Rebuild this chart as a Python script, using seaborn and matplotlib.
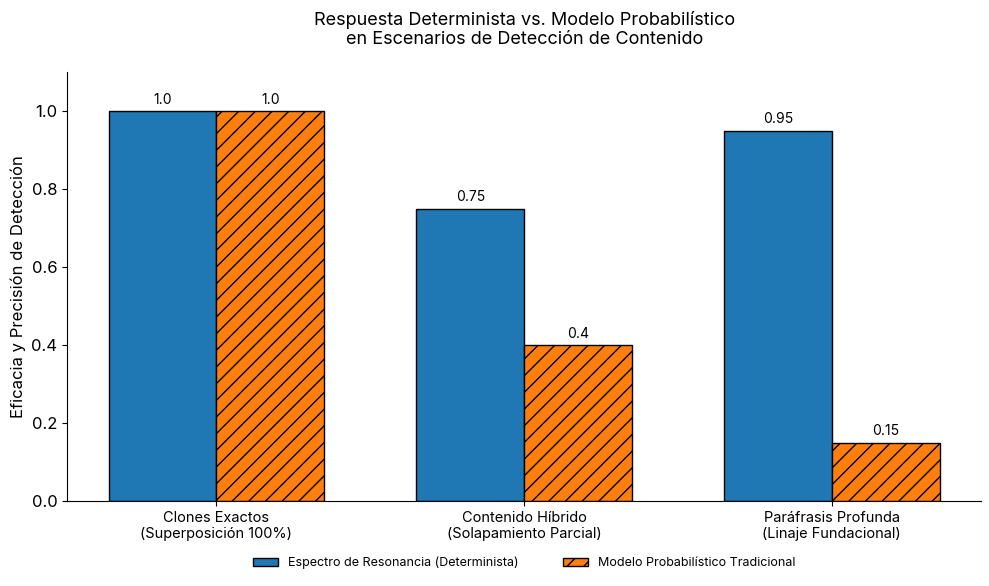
import numpy as np
import pandas as pd
import matplotlib.pyplot as plt
import seaborn as sns

# data
scenarios = ['Clones Exactos\n(Superposición 100%)',
             'Contenido Híbrido\n(Solapamiento Parcial)',
             'Paráfrasis Profunda\n(Linaje Fundacional)']
series_names = ['Espectro de Resonancia (Determinista)',
                'Modelo Probabilístico Tradicional']
deterministic = [1.0, 0.75, 0.95]
probabilistic = [1.0, 0.4, 0.15]

df = pd.DataFrame({
    'scenario': scenarios * 2,
    'model': [series_names[0]] * 3 + [series_names[1]] * 3,
    'score': deterministic + probabilistic,
})

sns.set_style('ticks')
plt.rcParams['font.family'] = ['Inter', 'DejaVu Sans']
plt.rcParams['text.color'] = 'black'
plt.rcParams['axes.labelcolor'] = 'black'
plt.rcParams['xtick.color'] = 'black'
plt.rcParams['ytick.color'] = 'black'
plt.rcParams['axes.edgecolor'] = 'black'

fig, ax = plt.subplots(figsize=(9.89, 5.86), dpi=100)
sns.barplot(data=df, x='scenario', y='score', hue='model', width=0.7,
            palette=['#1f77b4', '#ff7f0e'], edgecolor='black', linewidth=1,
            saturation=1, errorbar=None, ax=ax)

# hatch the probabilistic bars
for bar in ax.containers[1]:
    bar.set_hatch('//')

for cont, vals in zip(ax.containers, [deterministic, probabilistic]):
    ax.bar_label(cont, labels=[str(v) for v in vals], padding=3, fontsize=10)

ax.set_xlim(-0.485, 2.485)
ax.set_ylim(0, 1.1)
ax.set_xlabel('')
ax.set_ylabel('Eficacia y Precisión de Detección', fontsize=12)
ax.tick_params(axis='y', labelsize=12)
ax.tick_params(axis='x', labelsize=10.5)
ax.set_title('Respuesta Determinista vs. Modelo Probabilístico\nen Escenarios de Detección de Contenido',
             fontsize=13, pad=20)
sns.despine(ax=ax)

ax.legend(ax.containers, series_names, loc='center',
          bbox_to_anchor=(0.5, -0.145), ncol=2, frameon=False, fontsize=9,
          columnspacing=3.6)

fig.subplots_adjust(left=0.068, right=0.992, top=0.877, bottom=0.145)
plt.savefig('out.png', dpi=100)
plt.close()
